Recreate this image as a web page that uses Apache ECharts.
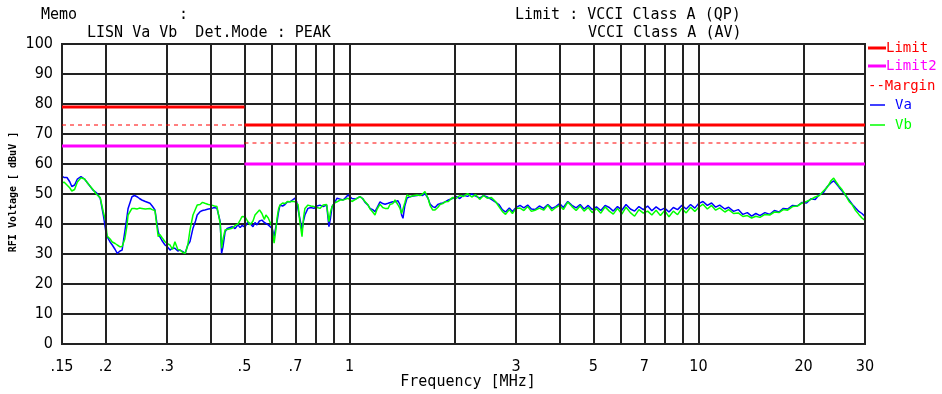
<!DOCTYPE html>
<html>
<head>
<meta charset="utf-8">
<script src="https://cdn.jsdelivr.net/npm/echarts@6/dist/echarts.min.js"></script>
<style>
html, body { margin: 0; padding: 0; background: #fff; }
#main { width: 942px; height: 394px; }
</style>
</head>
<body>
<div id="main"></div>
<script>
// measured trace, frequency in MHz
var freqs = [
    0.150, 0.152, 0.155, 0.158, 0.160, 0.163, 0.166, 0.170, 0.174, 0.178,
    0.184, 0.188, 0.193, 0.197, 0.200, 0.202, 0.206, 0.209, 0.213, 0.216,
    0.220, 0.223, 0.227, 0.230, 0.232, 0.238, 0.242, 0.246, 0.250, 0.254,
    0.260, 0.268, 0.272, 0.277, 0.280, 0.283, 0.286, 0.290, 0.296, 0.300,
    0.306, 0.311, 0.316, 0.322, 0.327, 0.333, 0.338, 0.344, 0.349, 0.356,
    0.362, 0.366, 0.373, 0.379, 0.385, 0.394, 0.403, 0.410, 0.417, 0.426,
    0.430, 0.434, 0.440, 0.446, 0.461, 0.470, 0.479, 0.486, 0.492, 0.502,
    0.510, 0.519, 0.529, 0.536, 0.543, 0.552, 0.561, 0.570, 0.576, 0.585,
    0.592, 0.600, 0.608, 0.615, 0.620, 0.626, 0.632, 0.643, 0.653, 0.664,
    0.675, 0.686, 0.698, 0.705, 0.712, 0.720, 0.731, 0.738, 0.745, 0.760,
    0.775, 0.791, 0.807, 0.823, 0.840, 0.860, 0.873, 0.882, 0.891, 0.905,
    0.921, 0.940, 0.958, 0.975, 0.990, 1.016, 1.040, 1.071, 1.090, 1.107,
    1.130, 1.145, 1.165, 1.183, 1.200, 1.223, 1.245, 1.264, 1.290, 1.306,
    1.330, 1.350, 1.375, 1.395, 1.410, 1.423, 1.440, 1.461, 1.490, 1.520,
    1.560, 1.592, 1.620, 1.645, 1.680, 1.701, 1.730, 1.758, 1.790, 1.817,
    1.850, 1.878, 1.92, 1.97, 2.02, 2.07, 2.12, 2.18, 2.24, 2.30,
    2.36, 2.42, 2.48, 2.55, 2.62, 2.68, 2.74, 2.80, 2.87, 2.93,
    3.00, 3.08, 3.16, 3.24, 3.32, 3.40, 3.50, 3.60, 3.70, 3.80,
    3.90, 4.00, 4.10, 4.22, 4.34, 4.46, 4.58, 4.70, 4.83, 4.96,
    5.10, 5.25, 5.40, 5.55, 5.70, 5.86, 6.03, 6.20, 6.38, 6.56,
    6.75, 6.95, 7.15, 7.35, 7.56, 7.78, 8.00, 8.23, 8.47, 8.71,
    8.96, 9.22, 9.49, 9.76, 10.0, 10.3, 10.6, 10.9, 11.2, 11.5,
    11.9, 12.2, 12.6, 13.0, 13.4, 13.8, 14.2, 14.6, 15.0, 15.5,
    16.0, 16.5, 17.0, 17.5, 18.0, 18.6, 19.2, 19.8, 20.4, 21.0,
    21.6, 22.2, 22.8, 23.4, 24.0, 24.4, 24.8, 25.3, 25.8, 26.4,
    27.0, 27.6, 28.2, 28.8, 29.4, 30.0
];
var va = [
    56, 55.5, 55.5, 54, 52.5, 53, 55, 55.8, 55, 53.5,
    51.3, 50.5, 48.6, 43, 38, 35.8, 34, 33, 31.5, 30.2,
    31, 31.3, 37.4, 42, 45.2, 49.1, 49.5, 49.1, 48.5, 48,
    47.5, 46.9, 46, 44.7, 41, 37.4, 35.8, 34.5, 33, 32.5,
    31.3, 32, 31.9, 31, 31.3, 30.8, 30.2, 33, 34.1, 38.6,
    41, 43, 44.1, 44.5, 44.7, 45, 45.2, 45.5, 45.2, 40.8,
    30.2, 32.5, 37.4, 38.5, 39.1, 38.5, 39.7, 38.8, 39.5, 39,
    40.5, 40.2, 39.1, 40.5, 39.7, 41, 41.3, 40.5, 40.8, 39.7,
    39.7, 38.5, 35.8, 39, 40.8, 44, 46.3, 46, 46.5, 47.4,
    47.4, 48, 48.6, 47.5, 46.9, 42, 38, 41, 43, 45.2,
    45.5, 45.2, 46, 46.3, 45.8, 46.3, 39.1, 42, 45.8, 47,
    48.6, 48.3, 48, 48.8, 49.7, 48.5, 48.3, 49.1, 48.5, 47.3,
    46.3, 45.2, 44.8, 44.1, 45.5, 47.4, 46.8, 46.6, 46.9, 46.9,
    47.4, 47.4, 47.8, 46.5, 43, 41.9, 46, 48.6, 49.1, 49.3,
    49.5, 49.7, 49.5, 50.2, 48.5, 46.7, 45.8, 45.5, 46.5, 46.8,
    47, 47.4, 48, 48.5, 49.2, 48.5, 49.6, 49.2, 50, 49.3,
    48.6, 49.5, 49, 48.2, 47.3, 46.5, 44.8, 44, 45.3, 44.2,
    45.5, 46.2, 45.4, 46.3, 45, 44.8, 46, 45.2, 46.5, 45.2,
    45.8, 46.8, 45.5, 47.5, 46.2, 45.4, 46.5, 45, 46.2, 44.8,
    45.7, 44.5, 46.2, 45.5, 44.3, 45.8, 44.6, 46.5, 45, 44.3,
    45.8, 44.8, 46, 44.4, 45.7, 44.6, 45.3, 44, 45.5, 44.8,
    46.2, 45, 46.5, 45.3, 46.8, 47.5, 46.2, 47, 45.6, 46.3,
    45, 45.6, 44.2, 44.8, 43.2, 43.8, 42.6, 43.5, 42.8, 43.8,
    43.2, 44.5, 44, 45.2, 45, 46.2, 46, 47.2, 47, 48.4,
    48.2, 49.8, 50.5, 52.5, 53.8, 54.4, 53.5, 52.2, 51, 49.5,
    48, 46.5, 45.3, 44.2, 43.5, 42.5
];
var vb = [
    53.5, 54, 53, 52, 51, 51.5, 54, 55.4, 55, 53.5,
    51.5, 50, 48.8, 44, 41, 36, 35, 34, 33.5, 33,
    32.4, 32.5, 35, 39, 43, 45.2, 45.2, 45, 45.3, 45.2,
    45, 45.2, 44.8, 44.5, 40, 35.8, 36.5, 35.5, 34.1, 33.5,
    33, 31.5, 34.1, 31.5, 31.3, 30.5, 30.2, 33, 38, 43,
    45, 46.3, 46.5, 47.2, 46.9, 46.5, 46.3, 46, 45.8, 40.2,
    31.9, 35, 38, 38.2, 38.6, 39.5, 40, 41.3, 42.5, 42.4,
    41, 39.7, 41, 43, 43.5, 44.7, 43.5, 41.5, 43, 42,
    42.5, 39, 33.6, 38, 42, 45, 46.3, 47, 46.8, 47.5,
    47.4, 47.6, 47.4, 47.6, 46.5, 41, 35.8, 42, 45.2, 46.3,
    46, 45.8, 45.5, 45.2, 46.3, 46.5, 40.8, 44, 45.8, 47,
    47.4, 48, 48, 48.3, 48.6, 47.5, 48.2, 49.1, 48.5, 47.5,
    46.3, 45, 44, 43, 45, 46.6, 45.5, 45.2, 45.2, 46.5,
    46.8, 48, 46.5, 45.2, 43.5, 43, 47, 49.7, 49.1, 49.4,
    49.7, 49.5, 50, 50.8, 48.5, 46.2, 44.7, 44.7, 45.5, 46.5,
    46.8, 47.4, 47.5, 48.8, 48.5, 49.5, 49.2, 50.1, 49, 49.8,
    48.2, 49.5, 48.6, 48.8, 47.5, 45.8, 44.2, 43.2, 44.8, 43.5,
    45.2, 45.3, 44.5, 45.8, 44.2, 44.6, 45.3, 44.6, 46.3, 44.4,
    45.5, 46.2, 44.8, 47.3, 45.8, 44.5, 46, 44.3, 45.5, 43.8,
    45.2, 43.6, 45.7, 44.3, 43.3, 45.2, 43.3, 45.6, 43.8, 42.6,
    44.8, 43.6, 44.3, 43, 44.6, 42.8, 44.5, 42.4, 44.3, 43.1,
    45.2, 43.7, 45.6, 44.2, 45.5, 46.6, 45, 46.2, 44.6, 45.4,
    44, 44.8, 43.5, 43.7, 42.5, 42.8, 42, 42.6, 42.2, 43.2,
    43, 44, 43.8, 44.8, 44.6, 45.8, 46, 47, 47.5, 48.2,
    49, 49.5, 51, 52.3, 54.5, 55.3, 54, 52.6, 51.4, 49.6,
    47.5, 46.3, 44.5, 43.2, 42, 41.2
];

// limit lines (VCCI Class A), null = break at 0.5 MHz
var limitFreq = [0.15, 0.5, 0.5, 0.5, 30];
var limitQP = [79, 79, null, 73, 73];
var limitAV = [66, 66, null, 60, 60];
var marginLine = [73, 73, null, 67, 67];

// frequency grid and its labels
var gridFreqs = [0.15, 0.2, 0.3, 0.4, 0.5, 0.6, 0.7, 0.8, 0.9, 1,
    2, 3, 4, 5, 6, 7, 8, 9, 10, 20, 30];
var gridLabels = ['.15', '.2', '.3', '', '.5', '', '.7', '', '', '1',
    '', '3', '', '5', '', '7', '', '', '10', '20', '30'];

function pairs(xs, ys) {
    return xs.map(function (x, i) { return [x, ys[i]]; });
}

var MONO = "'DejaVu Sans Mono', monospace";
var NARROW = "'Liberation Sans Narrow', 'DejaVu Sans Condensed', sans-serif";

var myChart = echarts.init(document.getElementById('main'));

var option = {
    animation: false,
    backgroundColor: '#fff',
    grid: {
        left: 62, right: 77, top: 44, bottom: 50,
        show: true, borderColor: '#222', borderWidth: 2, backgroundColor: 'transparent'
    },
    xAxis: {
        type: 'log',
        logBase: 10,
        min: 0.15,
        max: 30,
        axisLine: { show: true, lineStyle: { color: '#222', width: 2 } },
        axisTick: { show: false },
        axisLabel: { show: false },
        splitLine: { show: false }
    },
    yAxis: {
        type: 'value',
        min: 0,
        max: 100,
        interval: 10,
        axisLine: { show: true, lineStyle: { color: '#222', width: 2 } },
        axisTick: { show: false },
        axisLabel: { color: '#000', fontFamily: NARROW, fontSize: 16, margin: 9 },
        splitLine: { show: true, lineStyle: { color: '#222', width: 2 } }
    },
    graphic: [
        { type: 'text', style: { text: 'Memo', x: 41, y: 15, font: '15px ' + MONO, fill: '#000', verticalAlign: 'middle' } },
        { type: 'text', style: { text: ':', x: 179, y: 15, font: '15px ' + MONO, fill: '#000', verticalAlign: 'middle' } },
        { type: 'text', style: { text: 'LISN Va Vb  Det.Mode : PEAK', x: 87, y: 33, font: '15px ' + MONO, fill: '#000', verticalAlign: 'middle' } },
        { type: 'text', style: { text: 'Limit : VCCI Class A (QP)', x: 515, y: 15, font: '15px ' + MONO, fill: '#000', verticalAlign: 'middle' } },
        { type: 'text', style: { text: 'VCCI Class A (AV)', x: 588, y: 33, font: '15px ' + MONO, fill: '#000', verticalAlign: 'middle' } },
        { type: 'text', style: { text: 'Frequency [MHz]', x: 468, y: 382, font: '15px ' + MONO, fill: '#000', align: 'center', verticalAlign: 'middle' } },
        { type: 'text', x: 13, y: 192, rotation: Math.PI / 2,
          style: { text: 'RFI Voltage [ dBuV ]', x: 0, y: 0, font: 'bold 10px ' + MONO, fill: '#000', align: 'center', verticalAlign: 'middle' } },
        // legend
        { type: 'line', shape: { x1: 868, y1: 48, x2: 886, y2: 48 }, style: { stroke: '#ff0000', lineWidth: 3 } },
        { type: 'text', style: { text: 'Limit', x: 886, y: 48, font: '14px ' + MONO, fill: '#ff0000', verticalAlign: 'middle' } },
        { type: 'line', shape: { x1: 868, y1: 66, x2: 886, y2: 66 }, style: { stroke: '#ff00ff', lineWidth: 3 } },
        { type: 'text', style: { text: 'Limit2', x: 886, y: 66, font: '14px ' + MONO, fill: '#ff00ff', verticalAlign: 'middle' } },
        { type: 'text', style: { text: '--Margin', x: 868, y: 86, font: '14px ' + MONO, fill: '#ff0000', verticalAlign: 'middle' } },
        { type: 'line', shape: { x1: 870, y1: 105, x2: 885, y2: 105 }, style: { stroke: '#0000ff', lineWidth: 1.5 } },
        { type: 'text', style: { text: 'Va', x: 895, y: 105, font: '14px ' + MONO, fill: '#0000ff', verticalAlign: 'middle' } },
        { type: 'line', shape: { x1: 870, y1: 125, x2: 885, y2: 125 }, style: { stroke: '#00ff00', lineWidth: 1.5 } },
        { type: 'text', style: { text: 'Vb', x: 895, y: 125, font: '14px ' + MONO, fill: '#00ff00', verticalAlign: 'middle' } }
    ],
    series: [
        {
            name: 'grid',
            type: 'line',
            data: [],
            z: 3,
            markLine: {
                silent: true,
                symbol: ['none', 'none'],
                animation: false,
                lineStyle: { color: '#222', width: 2, type: 'solid' },
                label: {
                    position: 'start',
                    distance: 15,
                    color: '#000',
                    fontFamily: NARROW,
                    fontSize: 16
                },
                emphasis: { disabled: true },
                data: gridFreqs.map(function (f, i) {
                    return {
                        xAxis: f,
                        label: { show: gridLabels[i] !== '', formatter: gridLabels[i] }
                    };
                })
            }
        },
        {
            name: 'Va',
            type: 'line',
            data: pairs(freqs, va),
            showSymbol: false,
            z: 1,
            lineStyle: { color: '#0000ff', width: 1.5 },
            itemStyle: { color: '#0000ff' }
        },
        {
            name: 'Vb',
            type: 'line',
            data: pairs(freqs, vb),
            showSymbol: false,
            z: 2,
            lineStyle: { color: '#00ff00', width: 1.5 },
            itemStyle: { color: '#00ff00' }
        },
        {
            name: 'Margin',
            type: 'line',
            data: pairs(limitFreq, marginLine),
            showSymbol: false,
            z: 5,
            lineStyle: { color: '#ff0000', width: 1, type: [4, 4] }
        },
        {
            name: 'Limit2',
            type: 'line',
            data: pairs(limitFreq, limitAV),
            showSymbol: false,
            z: 5,
            lineStyle: { color: '#ff00ff', width: 3 }
        },
        {
            name: 'Limit',
            type: 'line',
            data: pairs(limitFreq, limitQP),
            showSymbol: false,
            z: 6,
            lineStyle: { color: '#ff0000', width: 3 }
        }
    ]
};

myChart.setOption(option);
</script>
</body>
</html>
